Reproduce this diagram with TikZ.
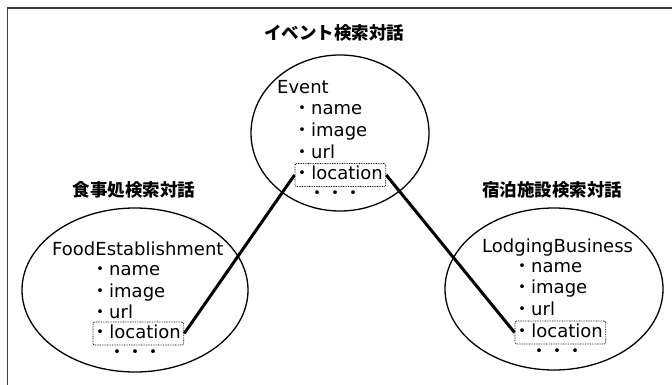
\documentclass[tikz,border=0pt]{standalone}
\usepackage{fontspec}
\setmainfont{DejaVu Sans}
\newfontfamily\jp{Noto Sans CJK JP}
\usetikzlibrary{shapes.geometric}
\newcommand\bul{{\jp\hspace{-0.25em}・}}
\begin{document}
\begin{tikzpicture}[x=1pt,y=-1pt,
  every node/.style={inner sep=0pt},
  ttl/.style={font=\jp\bfseries\fontsize{17.5}{20}\selectfont},
  cls/.style={anchor=base west,font=\fontsize{18}{21}\selectfont},
  item/.style={anchor=base west,font=\fontsize{18}{21}\selectfont,inner xsep=3pt},
  locbox/.style={item,draw,line width=0.8pt,dash pattern=on 0.8pt off 0.9pt,rounded corners=2pt,text height=13pt,text depth=4pt,inner ysep=3pt,anchor=west},
  more/.style={font=\jp\fontsize{18}{21}\selectfont},
  oval/.style={draw,line width=1.3pt},
  link/.style={line width=3pt}]
\useasboundingbox (0,0) rectangle (672,385);
\draw[line width=1.5pt,black!75] (672,8) -- (7.5,8) -- (7.5,385);

% ellipses
\draw[oval] (340,133) ellipse [x radius=89, y radius=78];
\draw[oval] (135,290) ellipse [x radius=113, y radius=82];
\draw[oval] (554,289) ellipse [x radius=109, y radius=81];

% titles
\node[ttl] (t1) at (334,33) {イベント検索対話};
\node[ttl] (t2) at (134,190) {食事処検索対話};
\node[ttl] (t3) at (552,190) {宿泊施設検索対話};

% top: Event
\node[cls] (ec) at (277,94) {Event};
\node[item] (en) at (294.5,115) {\bul name};
\node[item] (ei) at (294.5,137) {\bul image};
\node[item] (eu) at (294.5,158) {\bul url};
\node[locbox] (el) at (294.5,175) {\bul location};
\node[more] (ed) at (335,195) {・・・};

% left: FoodEstablishment
\node[cls] (fc) at (52,255) {FoodEstablishment};
\node[item] (fn) at (92.5,275.5) {\bul name};
\node[item] (fi) at (92.5,297) {\bul image};
\node[item] (fu) at (92.5,318) {\bul url};
\node[locbox] (fl) at (92.5,333.5) {\bul location};
\node[more] (fd) at (135,354) {・・・};

% right: LodgingBusiness
\node[cls] (lc) at (482,252) {LodgingBusiness};
\node[item] (ln) at (514.5,272) {\bul name};
\node[item] (li) at (514.5,293) {\bul image};
\node[item] (lu) at (514.5,315) {\bul url};
\node[locbox] (ll) at (514.5,332.5) {\bul location};
\node[more] (ld) at (557,353) {・・・};

% connectors
\draw[link] (fl.east) -- (el.west);
\draw[link] (el.east) -- (ll.west);
\end{tikzpicture}
\end{document}
